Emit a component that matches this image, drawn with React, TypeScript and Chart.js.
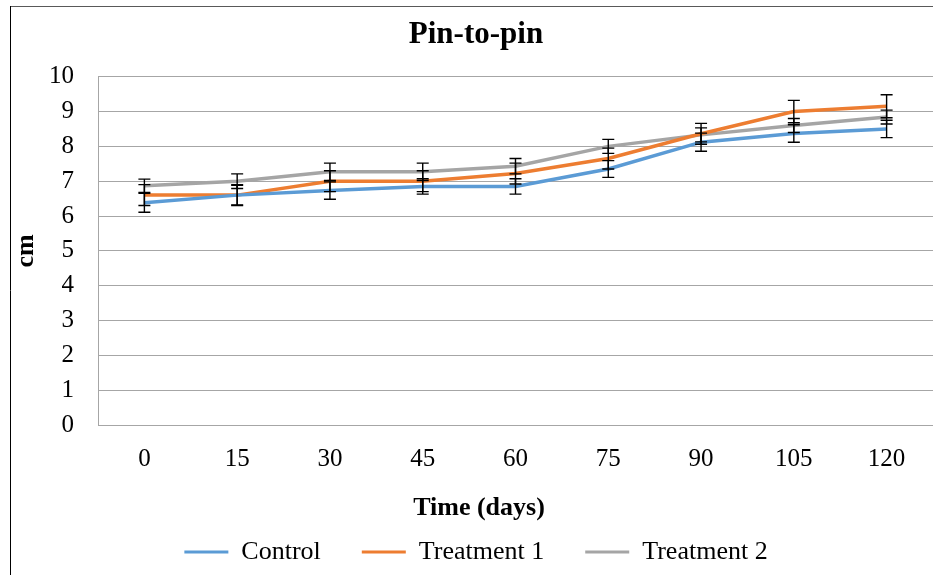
import React, { useEffect, useRef } from "react";
import { Chart, registerables } from "chart.js";

Chart.register(...registerables);

const days = ["0", "15", "30", "45", "60", "75", "90", "105", "120"];
const control = [6.38, 6.6, 6.73, 6.85, 6.85, 7.35, 8.12, 8.37, 8.5];
const treatment1 = [6.6, 6.6, 7.0, 7.0, 7.22, 7.65, 8.36, 9.0, 9.15];
const treatment2 = [6.87, 7.0, 7.27, 7.27, 7.43, 8.0, 8.33, 8.6, 8.84];
const controlErr = [0.27, 0.28, 0.25, 0.22, 0.22, 0.24, 0.26, 0.25, 0.25];
const treatment1Err = [0.3, 0.3, 0.3, 0.3, 0.3, 0.3, 0.3, 0.32, 0.33];
const treatment2Err = [0.19, 0.21, 0.25, 0.25, 0.22, 0.2, 0.2, 0.2, 0.2];
const yTicks = [0, 1, 2, 3, 4, 5, 6, 7, 8, 9, 10];

const SERIF = "'Liberation Serif', 'Times New Roman', serif";
const CANVAS_W = 952;
const CANVAS_H = 575;

const errorsByDataset = [controlErr, treatment1Err, treatment2Err];

const framePlugin = {
  id: "frame",
  beforeDraw(chart: any) {
    const ctx = chart.ctx;
    ctx.save();
    ctx.fillStyle = "#ffffff";
    ctx.fillRect(0, 0, chart.width, chart.height);
    ctx.lineWidth = 1;
    ctx.strokeStyle = "#595959";
    ctx.beginPath();
    ctx.moveTo(10, 6.5);
    ctx.lineTo(chart.width, 6.5);
    ctx.stroke();
    ctx.strokeStyle = "#000000";
    ctx.beginPath();
    ctx.moveTo(10.5, 6);
    ctx.lineTo(10.5, chart.height);
    ctx.stroke();
    ctx.restore();
  },
};

const errorBarPlugin = {
  id: "errorBars",
  afterDatasetsDraw(chart: any) {
    const ctx = chart.ctx;
    const yScale = chart.scales.y;
    ctx.save();
    ctx.strokeStyle = "#000000";
    ctx.lineWidth = 1.4;
    chart.data.datasets.forEach((ds: any, i: number) => {
      const meta = chart.getDatasetMeta(i);
      const errs = errorsByDataset[i];
      meta.data.forEach((pt: any, j: number) => {
        const v = ds.data[j];
        const e = errs[j];
        const x = pt.x;
        const yT = yScale.getPixelForValue(v + e);
        const yB = yScale.getPixelForValue(v - e);
        ctx.beginPath();
        ctx.moveTo(x, yT);
        ctx.lineTo(x, yB);
        ctx.moveTo(x - 6, yT);
        ctx.lineTo(x + 6, yT);
        ctx.moveTo(x - 6, yB);
        ctx.lineTo(x + 6, yB);
        ctx.stroke();
      });
    });
    ctx.restore();
  },
};

const xTitlePlugin = {
  id: "xTitle",
  afterDraw(chart: any) {
    const ctx = chart.ctx;
    ctx.save();
    ctx.fillStyle = "#000000";
    ctx.font = `bold 26px ${SERIF}`;
    ctx.textAlign = "center";
    ctx.textBaseline = "middle";
    ctx.fillText("Time (days)", chart.width / 2 + 3, chart.chartArea.bottom + 83);
    ctx.restore();
  },
};

export default function App() {
  const canvasRef = useRef<HTMLCanvasElement | null>(null);

  useEffect(() => {
    const canvas = canvasRef.current;
    if (!canvas) return;
    const chart = new Chart(canvas, {
      type: "line",
      data: {
        labels: days,
        datasets: [
          {
            label: "Control",
            data: control,
            borderColor: "#5B9BD5",
            backgroundColor: "#5B9BD5",
            borderWidth: 3.5,
            pointRadius: 0,
            tension: 0,
          },
          {
            label: "Treatment 1",
            data: treatment1,
            borderColor: "#ED7D31",
            backgroundColor: "#ED7D31",
            borderWidth: 3.5,
            pointRadius: 0,
            tension: 0,
          },
          {
            label: "Treatment 2",
            data: treatment2,
            borderColor: "#A5A5A5",
            backgroundColor: "#A5A5A5",
            borderWidth: 3.5,
            pointRadius: 0,
            tension: 0,
          },
        ],
      },
      options: {
        responsive: false,
        animation: false,
        devicePixelRatio: 1,
        layout: { padding: 0 },
        plugins: {
          tooltip: { enabled: false },
          title: {
            display: true,
            text: "Pin-to-pin",
            color: "#000000",
            font: { family: SERIF, size: 31, weight: "bold" },
            padding: { top: 16, bottom: 23.5 },
          },
          legend: {
            position: "bottom",
            labels: {
              color: "#000000",
              font: { family: SERIF, size: 26 },
              boxWidth: 44,
              boxHeight: 3,
              padding: 41,
              generateLabels: (ch: any) =>
                Chart.defaults.plugins.legend.labels
                  .generateLabels(ch)
                  .map((it: any) => ({ ...it, fillStyle: it.strokeStyle, lineWidth: 0 })),
            },
          },
        },
        scales: {
          x: {
            type: "category",
            offset: true,
            grid: { display: false, drawTicks: false },
            border: { display: true, color: "#A6A6A6", width: 1 },
            ticks: {
              color: "#000000",
              font: { family: SERIF, size: 25 },
              padding: 19,
              maxRotation: 0,
            },
            afterFit: (scale: any) => {
              scale.height = 73;
            },
          },
          y: {
            min: 0,
            max: 10,
            afterBuildTicks: (scale: any) => {
              scale.ticks = yTicks.map((v) => ({ value: v }));
            },
            grid: { color: "#A6A6A6", lineWidth: 1, drawTicks: false },
            border: { display: true, color: "#A6A6A6", width: 1 },
            ticks: {
              color: "#000000",
              font: { family: SERIF, size: 25 },
              padding: 24,
            },
            title: {
              display: true,
              text: "cm",
              color: "#000000",
              font: { family: SERIF, size: 26, weight: "bold" },
              padding: { top: 11, bottom: 0 },
            },
            afterFit: (scale: any) => {
              scale.width = 98;
            },
          },
          yRight: {
            position: "right",
            display: true,
            min: 0,
            max: 10,
            grid: { display: false, drawTicks: false },
            border: { display: false },
            ticks: { display: false },
            afterFit: (scale: any) => {
              scale.width = 19;
            },
          },
        },
      },
      plugins: [framePlugin, errorBarPlugin, xTitlePlugin],
    });
    return () => chart.destroy();
  }, []);

  return (
    <div
      style={{
        position: "fixed",
        left: 0,
        top: 0,
        width: 933,
        height: 575,
        overflow: "hidden",
        background: "#ffffff",
      }}
    >
      <canvas
        ref={canvasRef}
        width={CANVAS_W}
        height={CANVAS_H}
        style={{ display: "block", width: CANVAS_W, height: CANVAS_H }}
      />
    </div>
  );
}
